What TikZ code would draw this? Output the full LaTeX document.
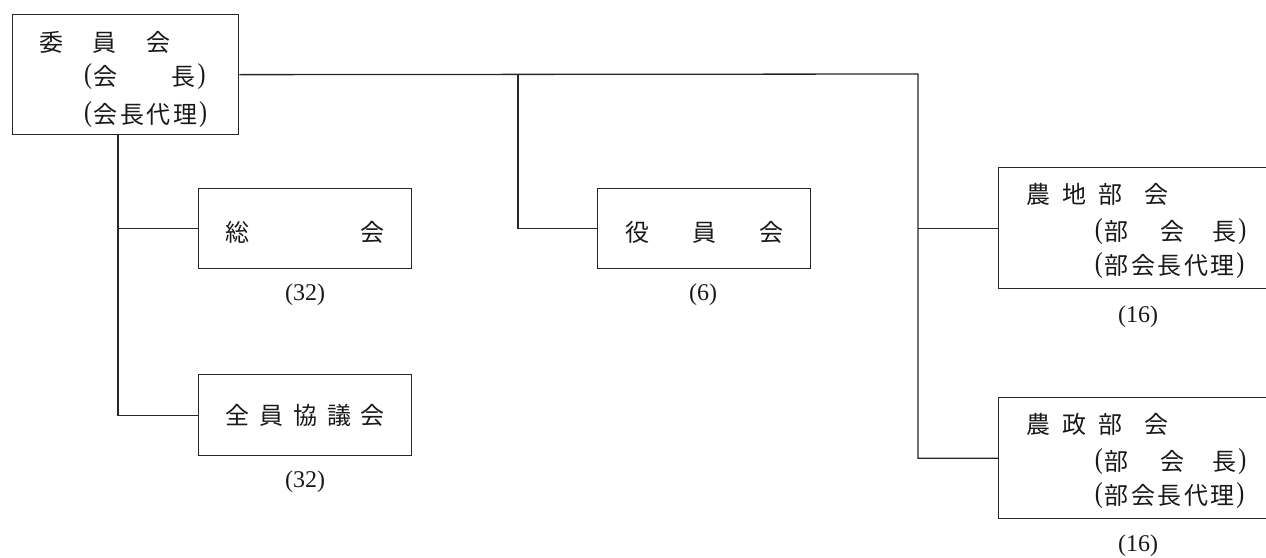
\documentclass[tikz,border=0pt]{standalone}
\usepackage{fontspec}
\setmainfont{Liberation Serif}
\newfontfamily\jp{Noto Sans CJK JP}
\newcommand\cc[1]{\makebox[26.5pt]{\jp #1}}
\newcommand\lp{\makebox[9pt]{\raisebox{1.5pt}{\scalebox{1}[1.2]{(}}}}
\newcommand\rp{\makebox[9pt]{\raisebox{1.5pt}{\scalebox{1}[1.2]{)}}}}
\tikzset{
  box/.style={draw=black!85, rectangle, inner sep=0pt, anchor=north west},
  lbl/.style={anchor=base west, inner sep=0pt, text=black!90, font=\fontsize{24}{28}\selectfont},
  num/.style={inner sep=0pt, text=black!90, font=\fontsize{24}{28}\selectfont},
  conn/.style={draw=black!85, line width=1.3pt}
}
\begin{document}
\begin{tikzpicture}[x=1pt,y=-1pt,line width=1.3pt]
\useasboundingbox (0,0) rectangle (1266,557);
% boxes
\node[box, minimum width=226pt, minimum height=120pt] (iin) at (12,14) {};
\node[box, minimum width=213pt, minimum height=80pt] (soukai) at (198,188) {};
\node[box, minimum width=213pt, minimum height=81pt] (zenin) at (198,374) {};
\node[box, minimum width=213pt, minimum height=80pt] (yakuin) at (597,188) {};
\node[box, minimum width=300pt, minimum height=121pt] (nochi) at (998,167) {};
\node[box, minimum width=300pt, minimum height=121pt] (nosei) at (998,397) {};
% connectors
\coordinate (busR) at (918,74);
\coordinate (busM) at (518,74);
\coordinate (busL) at (118,134);
\draw[conn] (iin.east) -- (busR) |- (nosei.west);
\draw[conn] (busR |- nochi.west) -- (nochi.west);
\draw[conn] (busM) |- (yakuin.west);
\draw[conn] (busL) |- (zenin.west);
\draw[conn] (busL |- soukai.west) -- (soukai.west);
% texts
\node[lbl] (t1a) at (37.75,51.5) {\cc{委}\hspace{26.5pt}\cc{員}\hspace{27pt}\cc{会}};
\node[lbl] (t1b) at (83,85) {\lp\cc{会}\hspace{51.5pt}\cc{長}\rp};
\node[lbl] (t1c) at (83,123) {\lp\cc{会}\cc{長}\cc{代}\cc{理}\rp};
\node[lbl] (t2) at (223.75,241) {\cc{総}\hspace{108pt}\cc{会}};
\node[lbl] (t3) at (223.75,424) {\cc{全}\hspace{7.3pt}\cc{員}\hspace{7.3pt}\cc{協}\hspace{7.3pt}\cc{議}\hspace{7.3pt}\cc{会}};
\node[lbl] (t4) at (623.25,241) {\cc{役}\hspace{40.5pt}\cc{員}\hspace{40.5pt}\cc{会}};
\node[lbl] (t5a) at (1024.25,203) {\cc{農}\hspace{9.5pt}\cc{地}\hspace{10pt}\cc{部}\hspace{19.5pt}\cc{会}};
\node[lbl] (t5b) at (1093.75,240) {\lp\cc{部}\hspace{29pt}\cc{会}\hspace{26pt}\cc{長}\rp};
\node[lbl] (t5c) at (1093.75,274) {\lp\cc{部}\cc{会}\cc{長}\cc{代}\cc{理}\rp};
\node[lbl] (t6a) at (1024.25,433) {\cc{農}\hspace{9.5pt}\cc{政}\hspace{10pt}\cc{部}\hspace{19.5pt}\cc{会}};
\node[lbl] (t6b) at (1093.75,470) {\lp\cc{部}\hspace{29pt}\cc{会}\hspace{26pt}\cc{長}\rp};
\node[lbl] (t6c) at (1093.75,504) {\lp\cc{部}\cc{会}\cc{長}\cc{代}\cc{理}\rp};
% counts
\node[num] (n1) at (305,295) {(32)};
\node[num] (n2) at (305,482) {(32)};
\node[num] (n3) at (703,295) {(6)};
\node[num] (n4) at (1138,317) {(16)};
\node[num] (n5) at (1138,546) {(16)};
\end{tikzpicture}
\end{document}
